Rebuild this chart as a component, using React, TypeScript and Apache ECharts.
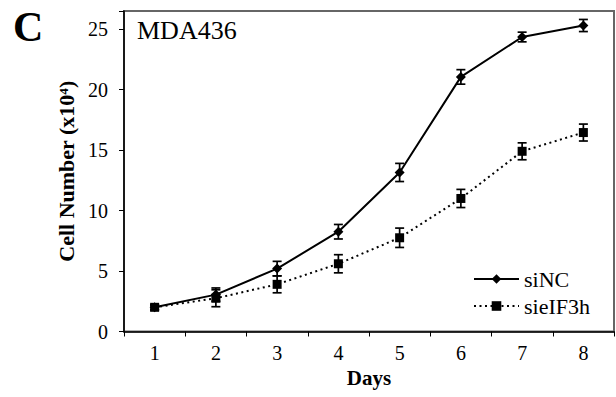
import React, { useEffect, useRef } from "react";
import * as echarts from "echarts";

const days = ["1", "2", "3", "4", "5", "6", "7", "8"];
const siNC = [2.0, 3.05, 5.2, 8.25, 13.15, 21.05, 24.35, 25.3];
const siNCErr = [0.2, 0.55, 0.6, 0.6, 0.75, 0.6, 0.4, 0.5];
const sieIF3h = [2.0, 2.75, 3.9, 5.6, 7.75, 11.0, 14.9, 16.45];
const sieIF3hErr = [0.2, 0.7, 0.7, 0.75, 0.8, 0.75, 0.7, 0.7];
const yTicks = [0, 5, 10, 15, 20, 25];

const FONT = "'Liberation Serif', 'Times New Roman', serif";

function errData(vals: number[], errs: number[]) {
  return vals.map((v, i) => [i, v - errs[i], v + errs[i]]);
}

function renderErr(params: any, api: any) {
  const x = api.value(0);
  const lo = api.coord([x, api.value(1)]);
  const hi = api.coord([x, api.value(2)]);
  const w = 4.5;
  const style = { stroke: "#000", lineWidth: 1.7, fill: "none" };
  return {
    type: "group",
    children: [
      { type: "line", shape: { x1: lo[0], y1: lo[1], x2: hi[0], y2: hi[1] }, style },
      { type: "line", shape: { x1: lo[0] - w, y1: lo[1], x2: lo[0] + w, y2: lo[1] }, style },
      { type: "line", shape: { x1: hi[0] - w, y1: hi[1], x2: hi[0] + w, y2: hi[1] }, style },
    ],
  };
}

export default function App() {
  const ref = useRef<HTMLDivElement>(null);
  useEffect(() => {
    if (!ref.current) return;
    const chart = echarts.init(ref.current, undefined, { renderer: "svg" });
    chart.setOption({
      animation: false,
      backgroundColor: "#fff",
      textStyle: { fontFamily: FONT },
      grid: {
        left: 124,
        top: 11,
        right: 2,
        bottom: 65.5,
        show: true,
        borderColor: "#666",
        borderWidth: 2,
      },
      graphic: [
        {
          type: "text",
          left: 13,
          top: 6,
          style: { text: "C", font: `bold 42px ${FONT}`, fill: "#000" },
        },
        {
          type: "text",
          left: 137,
          top: 17,
          style: { text: "MDA436", font: `26px ${FONT}`, fill: "#000" },
        },
      ],
      legend: {
        data: ["siNC", "sieIF3h"],
        orient: "vertical",
        left: 473,
        top: 268,
        padding: 0,
        itemWidth: 45,
        itemHeight: 12,
        itemGap: 5,
        textStyle: { fontFamily: FONT, fontSize: 22, color: "#000", lineHeight: 22 },
      },
      xAxis: {
        type: "category",
        data: days,
        boundaryGap: true,
        name: "Days",
        nameLocation: "middle",
        nameGap: 36,
        nameTextStyle: { fontFamily: FONT, fontSize: 21, fontWeight: "bold", color: "#000" },
        axisLine: { lineStyle: { color: "#000", width: 1.5 } },
        axisTick: { show: true, interval: 0, length: 5, lineStyle: { color: "#000" } },
        axisLabel: { fontFamily: FONT, fontSize: 20, color: "#000", margin: 11 },
        splitLine: { show: false },
      },
      yAxis: {
        type: "value",
        min: 0,
        max: 26.5,
        interval: 5,
        name: "Cell Number (x10⁴)",
        nameLocation: "middle",
        nameGap: 46,
        nameTextStyle: { fontFamily: FONT, fontSize: 22, fontWeight: "bold", color: "#000" },
        axisLine: { show: true, lineStyle: { color: "#000", width: 1.5 } },
        axisTick: { show: true, length: 5, lineStyle: { color: "#000" } },
        axisLabel: {
          fontFamily: FONT,
          fontSize: 20,
          color: "#000",
          margin: 16,
          formatter: (v: number) => (yTicks.includes(v) ? String(v) : ""),
        },
        splitLine: { show: false },
      },
      series: [
        {
          name: "siNC",
          type: "line",
          data: siNC,
          symbol: "diamond",
          symbolSize: 10,
          itemStyle: { color: "#000" },
          lineStyle: { color: "#000", width: 2, type: "solid" },
          z: 3,
        },
        {
          name: "sieIF3h",
          type: "line",
          data: sieIF3h,
          symbol: "rect",
          symbolSize: 9,
          itemStyle: { color: "#000" },
          lineStyle: { color: "#000", width: 2, type: [2, 3.5] },
          z: 3,
        },
        {
          name: "siNC err",
          type: "custom",
          data: errData(siNC, siNCErr),
          renderItem: renderErr,
          encode: { x: 0, y: [1, 2] },
          z: 4,
        },
        {
          name: "sieIF3h err",
          type: "custom",
          data: errData(sieIF3h, sieIF3hErr),
          renderItem: renderErr,
          encode: { x: 0, y: [1, 2] },
          z: 4,
        },
      ],
    });
    return () => chart.dispose();
  }, []);
  return <div ref={ref} style={{ width: 616, height: 397, position: "absolute", left: 0, top: 0 }} />;
}
